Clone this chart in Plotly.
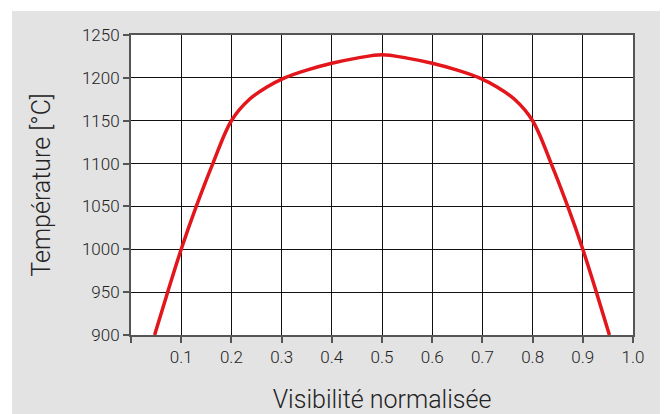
import plotly.graph_objects as go

visibility = [0.047, 0.073, 0.1, 0.13, 0.163, 0.2, 0.236, 0.27, 0.306, 0.35, 0.4, 0.45, 0.5,
              0.55, 0.6, 0.65, 0.694, 0.73, 0.764, 0.8, 0.837, 0.87, 0.9, 0.927, 0.953]
temperature = [900, 950, 1000, 1050, 1100, 1150, 1175, 1189, 1200, 1209, 1217, 1223, 1227,
               1223, 1217, 1209, 1200, 1189, 1175, 1150, 1100, 1050, 1000, 950, 900]

x_ticks = [0.0, 0.1, 0.2, 0.3, 0.4, 0.5, 0.6, 0.7, 0.8, 0.9, 1.0]
x_labels = ["", "0.1", "0.2", "0.3", "0.4", "0.5", "0.6", "0.7", "0.8", "0.9", "1.0"]
y_ticks = [900, 950, 1000, 1050, 1100, 1150, 1200, 1250]

FONT = "Roboto"
TXT = "#222222"

fig = go.Figure()
fig.add_trace(go.Scatter(
    x=visibility, y=temperature, mode="lines",
    line=dict(color="#e3161c", width=3.5, shape="spline", smoothing=1.0),
    hoverinfo="skip", showlegend=False,
))

# page body adds 8px offset; plot area in page: x 131..633, y 35..335
fig.update_layout(
    width=668, height=414,
    margin=dict(l=123, r=43, t=27, b=87),
    paper_bgcolor="white",
    plot_bgcolor="white",
    font=dict(family=FONT, color=TXT, weight=300),
    shapes=[
        dict(type="rect", xref="paper", yref="paper",
             x0=-119 / 502, x1=532 / 502, y0=-80 / 300, y1=324 / 300,
             fillcolor="#e3e3e3", line=dict(width=0), layer="below"),
        dict(type="rect", xref="paper", yref="paper",
             x0=0, x1=1, y0=0, y1=1,
             fillcolor="white", line=dict(width=0), layer="below"),
    ],
)

fig.update_xaxes(
    range=[0, 1], tickvals=x_ticks, ticktext=x_labels,
    showgrid=True, gridcolor="#111111", gridwidth=1,
    showline=True, linecolor="#555555", linewidth=2, mirror=True,
    ticks="outside", ticklen=6, tickcolor="#555555", tickwidth=1.5,
    tickfont=dict(size=17, family=FONT, color=TXT, weight=300),
    zeroline=False,
    title=dict(text="Visibilité normalisée", font=dict(size=25, family=FONT, color=TXT, weight=300), standoff=24),
)
fig.update_yaxes(
    range=[900, 1250], tickvals=y_ticks,
    showgrid=True, gridcolor="#111111", gridwidth=1,
    showline=True, linecolor="#555555", linewidth=2, mirror=True,
    ticks="outside", ticklen=6, tickcolor="#555555", tickwidth=1.5,
    tickfont=dict(size=17, family=FONT, color=TXT, weight=300),
    zeroline=False,
    title=dict(text="Température [°C]", font=dict(size=25, family=FONT, color=TXT, weight=300), standoff=24),
)

fig.write_html("out.html")
